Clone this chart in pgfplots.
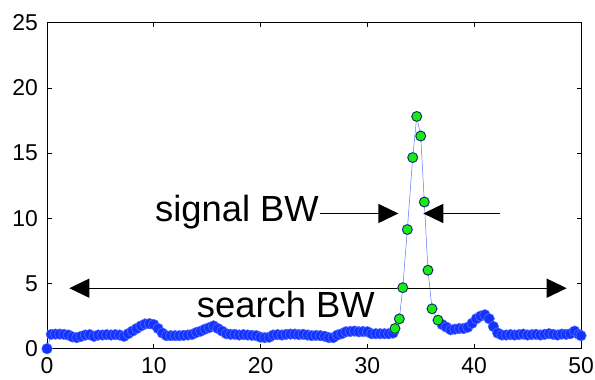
\documentclass[border=0pt]{standalone}
\usepackage{fontspec}
\setmainfont{Liberation Sans}
\usepackage{pgfplots}
\pgfplotsset{compat=1.18}
\usetikzlibrary{arrows.meta,calc}
\definecolor{mblue}{rgb}{0.08,0.2,1}
\definecolor{mline}{rgb}{0.35,0.45,1}
\definecolor{mgreen}{rgb}{0.1,0.92,0.1}
\begin{document}
\begin{tikzpicture}
\begin{axis}[
  scale only axis,
  width=534bp, height=326bp,
  xmin=0, xmax=50, ymin=0, ymax=25,
  xtick={0,10,...,50}, ytick={0,5,...,25},
  tick align=inside,
  major tick length=4.5bp,
  axis line style={line width=0.9bp},
  tick style={line width=0.7bp, black},
  /pgf/number format/assume math mode=true,
  tick label style={font=\fontsize{23}{27}\selectfont, inner sep=0pt},
  xticklabel shift=9bp,
  yticklabel shift=9bp,
  clip=true,
]
\addplot[color=mline, line width=0.5bp, mark=*, mark size=5.3bp,
  mark options={fill=mblue, draw=none}] coordinates {
(0,0) (0.4,1.1) (0.8,1.12) (1.2,1.12) (1.6,1.1) (2.0,1.05) (2.4,0.9) (2.8,0.85)
(3.2,0.95) (3.6,1.05) (4.0,1.08) (4.4,0.95) (4.8,1.05) (5.2,1.05) (5.6,1.08)
(6.0,1.05) (6.4,1.08) (6.8,1.05) (7.2,0.95) (7.6,1.15) (8.0,1.35) (8.4,1.55)
(8.8,1.75) (9.2,1.9) (9.6,1.92) (10.0,1.85) (10.4,1.55) (10.8,1.2) (11.2,1.0)
(11.6,1.0) (12.0,1.0) (12.4,1.0) (12.8,1.02) (13.2,1.05) (13.6,1.1) (14.0,1.25)
(14.4,1.35) (14.8,1.5) (15.2,1.62) (15.6,1.75) (16.0,1.55) (16.4,1.35) (16.8,1.15)
(17.2,1.1) (17.6,1.1) (18.0,1.05) (18.4,1.08) (18.8,1.05) (19.2,1.02) (19.6,1.0)
(20.0,0.88) (20.4,0.85) (20.8,0.88) (21.2,1.05) (21.6,1.08) (22.0,1.05) (22.4,1.1)
(22.8,1.12) (23.2,1.12) (23.6,1.08) (24.0,1.1) (24.4,1.05) (24.8,1.0) (25.2,1.02)
(25.6,1.0) (26.0,0.95) (26.4,0.85) (26.8,0.85) (27.2,1.05) (27.6,1.15) (28.0,1.3)
(28.4,1.32) (28.8,1.35) (29.2,1.3) (29.6,1.32) (30.0,1.3) (30.4,1.15) (30.8,1.15)
(31.2,1.15) (31.6,1.15) (32.0,1.15) (32.4,1.2)
(32.58,1.55) (32.99,2.29) (33.31,4.68) (33.74,9.14) (34.24,14.66) (34.62,17.81)
(34.99,16.31) (35.33,11.25) (35.67,6.02) (36.05,3.06) (36.61,2.19)
(37.0,1.85) (37.4,1.65) (37.8,1.45) (38.2,1.5) (38.6,1.55) (39.0,1.55) (39.4,1.65)
(39.8,1.95) (40.2,2.3) (40.6,2.5) (41.0,2.6) (41.4,2.3) (41.8,1.7) (42.2,1.2)
(42.6,1.05) (43.0,1.05) (43.4,1.08) (43.8,1.05) (44.2,1.08) (44.6,1.12) (45.0,1.05)
(45.4,1.08) (45.8,1.1) (46.2,1.05) (46.6,1.1) (47.0,1.15) (47.4,1.1) (47.8,1.05)
(48.2,1.12) (48.6,1.1) (49.0,1.15) (49.4,1.35) (49.8,1.1) (50.0,1.0)
};
\addplot[only marks, mark=*, mark size=4.8bp,
  mark options={fill=mgreen, draw=none}] coordinates {
(32.58,1.55) (32.99,2.29) (33.31,4.68) (33.74,9.14) (34.24,14.66) (34.62,17.81)
(34.99,16.31) (35.33,11.25) (35.67,6.02) (36.05,3.06) (36.61,2.19)
};
\draw[line width=1.3bp, -{Triangle[length=20bp,width=19bp]}] (axis cs:25.56,10.37) -- (axis cs:32.9,10.37);
\draw[line width=1.3bp, -{Triangle[length=20bp,width=19bp]}] (axis cs:42.42,10.37) -- (axis cs:35.23,10.37);
\draw[line width=1.3bp, {Triangle[length=20bp,width=19bp]}-{Triangle[length=20bp,width=19bp]}] (axis cs:2.09,4.64) -- (axis cs:48.66,4.64);
\node[anchor=base west, inner sep=0pt, font=\fontsize{36.5}{42}\selectfont] at (axis cs:10.11,9.73) {signal BW};
\node[anchor=base west, inner sep=0pt, font=\fontsize{36.5}{42}\selectfont] at (axis cs:14.02,2.42) {search BW};
\coordinate (bl) at (rel axis cs:0,0);
\coordinate (tr) at (rel axis cs:1,1);
\end{axis}
\path ($(bl)+(-47bp,-31bp)$) rectangle ($(tr)+(14bp,22.7bp)$);
\end{tikzpicture}
\end{document}
